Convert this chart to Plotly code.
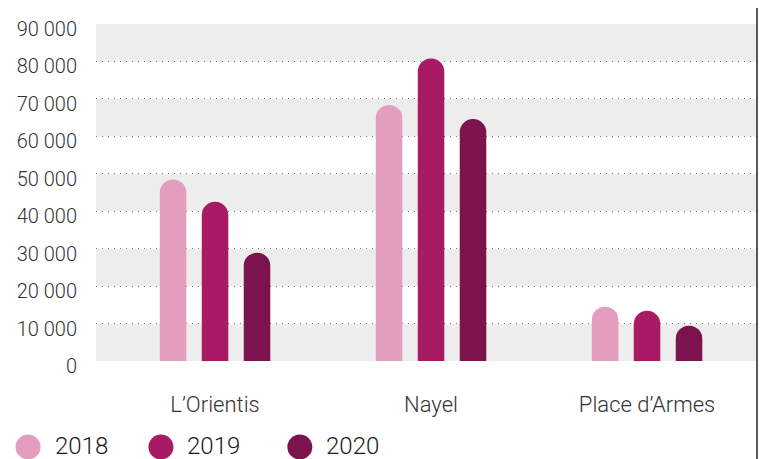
import plotly.graph_objects as go

categories = ["L\u2019Orientis", "Nayel", "Place d\u2019Armes"]
years = ["2018", "2019", "2020"]
values_2018 = [48500, 68400, 14500]
values_2019 = [42500, 80800, 13400]
values_2020 = [28900, 64600, 9400]
y_ticks = [0, 10000, 20000, 30000, 40000, 50000, 60000, 70000, 80000, 90000]

colors = ["#E39EBF", "#A81B64", "#7C134C"]
series = [values_2018, values_2019, values_2020]

OFF = 8  # page body margin
W, H = 766 - OFF, 459 - OFF
# plot area in page pixels
PL, PR, PT, PB = 96, 757.5, 24, 361
L, T = PL - OFF, PT - OFF
R, B = W - (PR - OFF), H - (PB - OFF)
pw, ph = PR - PL, PB - PT


def px_x(px):
    return (px - PL) / pw


def px_y(py):
    return (PB - py) / ph


fig = go.Figure()
for yr, vals, col in zip(years, series, colors):
    fig.add_trace(go.Bar(x=categories, y=vals, name=yr, marker=dict(color=col, line=dict(width=0)),
                         showlegend=False))

shapes = []
# alternating grey bands
for i in range(0, len(y_ticks) - 1, 2):
    shapes.append(dict(type="rect", xref="paper", yref="y", x0=0, x1=1,
                       y0=y_ticks[i], y1=y_ticks[i + 1], fillcolor="#EDEDED",
                       line=dict(width=0), layer="below"))
# right vertical rule
shapes.append(dict(type="line", xref="paper", yref="paper", x0=px_x(757.5), x1=px_x(757.5),
                   y0=px_y(462), y1=px_y(0), line=dict(color="#222222", width=1.5)))

annotations = []
legend_x = [28, 161, 300]
text_x = [53, 185, 324]
ly = 447
for yr, col, cx, tx in zip(years, colors, legend_x, text_x):
    shapes.append(dict(type="circle", xref="paper", yref="paper", xsizemode="pixel", ysizemode="pixel",
                       xanchor=px_x(cx), yanchor=px_y(ly), x0=-12.5, x1=12.5, y0=-12.5, y1=12.5,
                       fillcolor=col, line=dict(width=0)))
    annotations.append(dict(text=yr, xref="paper", yref="paper", x=px_x(tx), y=px_y(446),
                            xanchor="left", yanchor="middle", showarrow=False,
                            font=dict(family="Roboto", size=24, color="#1a1a1a", weight=300)))

fig.update_layout(
    width=W, height=H,
    margin=dict(l=L, r=R, t=T, b=B, pad=0),
    plot_bgcolor="rgba(0,0,0,0)", paper_bgcolor="white",
    separators=". ",
    barmode="group", bargap=0.417, bargroupgap=0.368,
    barcornerradius="50%",
    shapes=shapes, annotations=annotations,
    showlegend=False,
    font=dict(family="Roboto", color="#333333"),
)
fig.update_xaxes(range=[-0.551, 2.509], showgrid=False, showline=False, zeroline=False, ticks="",
                 tickfont=dict(family="Roboto", size=22, color="#333333", weight=300),
                 ticklabelstandoff=28)
fig.update_yaxes(range=[0, 90000], tickvals=y_ticks, tickformat=",d", showline=False, zeroline=False,
                 showgrid=True, gridcolor="#777777", gridwidth=1.4, griddash="1.4px,4.6px",
                 ticks="", ticklabelstandoff=18, ticklabelshift=5,
                 tickfont=dict(family="Roboto", size=20, color="#333333", weight=300))

fig.write_html("out.html")
